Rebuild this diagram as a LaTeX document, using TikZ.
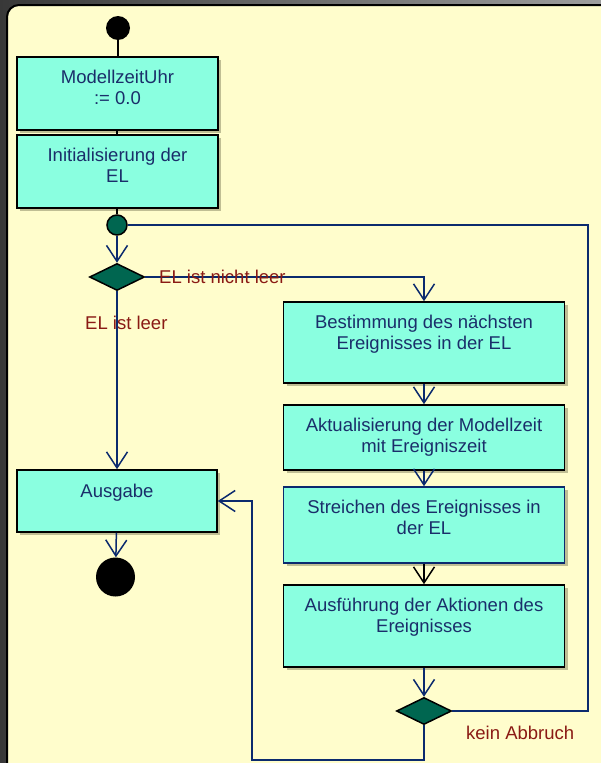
\documentclass[tikz,border=0pt]{standalone}
\usepackage{fontspec}
\setmainfont{Liberation Sans}
\usetikzlibrary{arrows.meta,shapes.geometric,shadows,calc}
\definecolor{panel}{HTML}{FFFDCC}
\definecolor{actfill}{HTML}{8AFFE0}
\definecolor{navy}{HTML}{0B2A6E}
\definecolor{txt}{HTML}{1A2E6A}
\definecolor{guard}{HTML}{8A1A14}
\definecolor{decfill}{HTML}{006650}
\begin{document}
\begin{tikzpicture}[x=1pt,y=-1pt,
  act/.style={draw=black,line width=1.6pt,fill=actfill,inner sep=0pt,
    drop shadow={shadow xshift=3pt,shadow yshift=-3pt,opacity=0.35,fill=black!60!olive}},
  acttext/.style={text=txt,align=center,font=\fontsize{18.5}{21.8}\selectfont,
    inner sep=0pt,anchor=north,execute at begin node=\strut},
  flow/.style={draw=navy,line width=1.5pt,-{Straight Barb[length=16pt,width=21pt]}},
  plain/.style={draw=navy,line width=1.5pt},
  solidlink/.style={draw=black,line width=1.5pt},
  dec/.style={diamond,draw=black,line width=1.5pt,fill=decfill,
    minimum width=55pt,minimum height=27pt,inner sep=0pt},
  guardlbl/.style={text=guard,font=\fontsize{18.5}{21.8}\selectfont,inner sep=0pt,anchor=west}]

\useasboundingbox (0,0) rectangle (601,763);
\clip (0,0) rectangle (601,763);

% backdrop and panel
\fill[left color=black!78,right color=black!38] (0,0) rectangle (601,763);
\draw[black,line width=2pt,fill=panel,rounded corners=12pt] (7,5) rectangle (650,820);

% activity nodes
\node[circle,fill=black,minimum size=24pt,inner sep=0pt] (start) at (118,28) {};
\node[act,minimum width=201pt,minimum height=73pt] (b1) at (117.5,93.5) {};
\node[acttext] (t1) at ($(b1.north)+(0,13.2)$) {ModellzeitUhr\\:= 0.0};
\node[act,minimum width=201pt,minimum height=73pt] (b2) at (117.5,171.5) {};
\node[acttext] (t2) at ($(b2.north)+(0,13.2)$) {Initialisierung der\\EL};
\node[circle,draw=black,line width=1.5pt,fill=decfill,minimum size=20pt,inner sep=0pt] (merge) at (117,225) {};
\node[dec] (d1) at (117,277) {};

\node[act,minimum width=281pt,minimum height=81pt] (b3) at (424,342.5) {};
\node[acttext] (t3) at ($(b3.north)+(0,13.2)$) {Bestimmung des nächsten\\Ereignisses in der EL};
\node[act,minimum width=281pt,minimum height=65pt] (b4) at (424,437.5) {};
\node[acttext] (t4) at ($(b4.north)+(0,13.2)$) {Aktualisierung der Modellzeit\\mit Ereigniszeit};
\node[act,draw=navy,minimum width=281pt,minimum height=76pt] (b5) at (424,525) {};
\node[acttext] (t5) at ($(b5.north)+(0,13.2)$) {Streichen des Ereignisses in\\der EL};
\node[act,minimum width=281pt,minimum height=82pt] (b6) at (424,626) {};
\node[acttext] (t6) at ($(b6.north)+(0,13.2)$) {Ausführung der Aktionen des\\Ereignisses};
\node[dec] (d2) at (424,711) {};

\node[act,minimum width=200pt,minimum height=62pt] (out) at (117,501) {};
\node[acttext] (t7) at ($(out.north)+(0,13.2)$) {Ausgabe};
\node[circle,fill=black,minimum size=39pt,inner sep=0pt] (end) at (115.5,577) {};

% connectors
\draw[solidlink] (start.south) -- (start.south |- b1.north);
\draw[solidlink] (b1.south -| merge) -- (b2.north -| merge);
\draw[solidlink] (b2.south -| merge) -- (merge.north);
\draw[flow] (merge) -- (d1);
\draw[flow] (d1.east) -| (b3.north);
\draw[flow] (d1.south) -- (out.north);
\draw[flow] (b3) -- (b4);
\draw[flow] (b4) -- (b5);
\draw[flow,draw=black] (b5) -- (b6);
\draw[flow] (b6) -- (d2);
\coordinate (loopR) at (588,711);
\draw[plain] (d2.east) -- (loopR) |- (merge.east);
\coordinate (backL) at (252,760);
\draw[flow] (d2.south) |- (backL) |- (out.east);
\draw[flow] (out) -- (end);

% guard labels
\node[guardlbl] (g1) at (159,277) {EL ist nicht leer};
\node[guardlbl] (g2) at (85,323) {EL ist leer};
\node[guardlbl] (g3) at (466,733) {kein Abbruch};
\end{tikzpicture}
\end{document}
